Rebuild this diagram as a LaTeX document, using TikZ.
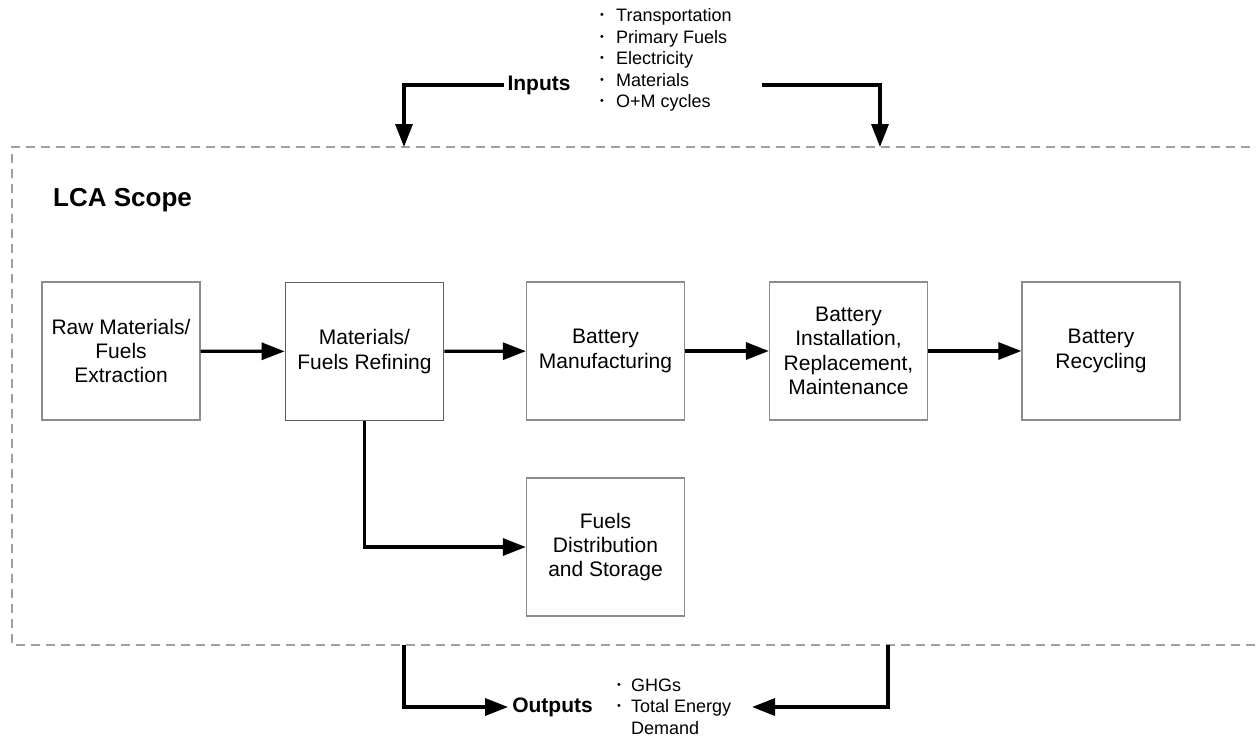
\documentclass[tikz,border=0pt]{standalone}
\usepackage{fontspec}
\usepackage{graphicx}
\setmainfont{Liberation Sans}
\usetikzlibrary{arrows.meta}
\definecolor{boxgray}{HTML}{8C8C8C}
\definecolor{dashgray}{HTML}{A0A0A0}
\newcommand{\bulA}{\makebox[16pt][l]{\raisebox{0.3ex}{\scalebox{0.6}{\textbullet}}}}
\newcommand{\bulB}{\makebox[14pt][l]{\raisebox{0.3ex}{\scalebox{0.6}{\textbullet}}}}
\begin{document}
\begin{tikzpicture}[x=1pt,y=-1pt,
  stagebox/.style={draw=boxgray,line width=1.3pt,minimum width=158pt,minimum height=138pt,inner sep=0pt,align=center,font=\fontsize{21}{24.3}\selectfont},
  flow/.style={line width=3.2pt,-{Triangle[length=23pt,width=17pt]}},
  scopeline/.style={draw=dashgray,line width=1.2pt,dash pattern=on 9pt off 6pt},
  biglabel/.style={font=\bfseries\fontsize{21}{24}\selectfont,inner sep=3pt},
  listtext/.style={font=\fontsize{18}{21.5}\selectfont,align=left,inner sep=0pt}]
\clip (0,0) rectangle (1256,737);
\fill[white] (0,0) rectangle (1256,737);

% scope
\draw[scopeline] (1280,147) -- (12,147) -- (12,645) -- (1280,645);
\coordinate (inLt) at (404,147);
\coordinate (inRt) at (880,147);
\coordinate (outLt) at (404,645);
\coordinate (outRt) at (888,645);
\node[anchor=west,inner sep=0pt,font=\bfseries\fontsize{26}{30}\selectfont] (scopelbl) at (53,200) {LCA Scope};

% stages
\node[stagebox] (raw) at (121,351) {Raw Materials/\\Fuels\\Extraction};
\node[stagebox,draw=gray!75!black,line width=1.8pt] (refine) at (364.5,351.5) {Materials/\\Fuels Refining};
\node[stagebox] (manuf) at (605.5,351) {Battery\\Manufacturing};
\node[stagebox] (install) at (848.5,351) {Battery\\Installation,\\Replacement,\\Maintenance};
\node[stagebox] (recyc) at (1101,351) {Battery\\Recycling};
\node[stagebox] (dist) at (605.5,547) {Fuels\\Distribution\\and Storage};

\draw[flow] (raw) -- (refine);
\draw[flow] (refine) -- (manuf);
\draw[flow] (manuf) -- (install);
\draw[flow] (install) -- (recyc);
\draw[flow] (refine.south) |- (dist.west);

% inputs
\node[biglabel] (inputs) at (539,85) {Inputs};
\node[listtext,anchor=north west] (inlist) at (600,8.5) {\bulA Transportation\\\bulA Primary Fuels\\\bulA Electricity\\\bulA Materials\\\bulA O+M cycles};
\coordinate (inRstart) at (762,85);
\draw[flow] (inputs.west) -| (inLt);
\draw[flow] (inRstart) -| (inRt);

% outputs
\node[biglabel,inner sep=4pt] (outputs) at (552.5,707) {Outputs};
\node[listtext,anchor=north west] (outlist) at (617,678.5) {\bulB GHGs\\\bulB Total Energy\\\hspace*{14pt}Demand};
\coordinate (outRend) at (752,707);
\draw[flow] (outLt) |- (outputs.west);
\draw[flow] (outRt) |- (outRend);
\end{tikzpicture}
\end{document}
